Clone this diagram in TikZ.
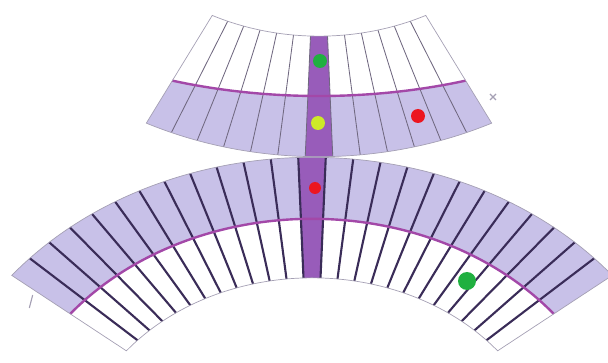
\documentclass[tikz,border=0pt]{standalone}
\definecolor{ringlav}{RGB}{200,193,232}
\definecolor{ringcol}{RGB}{152,92,186}
\definecolor{ringline}{RGB}{163,72,168}
\definecolor{spokedk}{RGB}{58,44,88}
\definecolor{spokelt}{RGB}{112,104,128}
\definecolor{rimgray}{RGB}{165,160,180}
\definecolor{dotred}{RGB}{236,22,32}
\definecolor{dotgreen}{RGB}{32,176,64}
\definecolor{dotlime}{RGB}{205,232,40}

\begin{document}
\begin{tikzpicture}[x=0.025cm, y=0.025cm,
    rim/.style={draw=rimgray, line width=0.5pt},
    spoke/.style={line width=1.5pt, spokedk},
    thinspoke/.style={line width=0.6pt, spokelt},
    midline/.style={line width=1.7pt, ringline}]
  \useasboundingbox (0,0) rectangle (608,363);

  % upper ring (centre above), 13 cells
  \begin{scope}[shift={(319,522)}]
  \begin{scope}[yscale=0.82]
    \fill[ringlav] plot[domain=-116.65:-63.35, samples=40]
        ({(311+16*((\x+90)/26.65)*((\x+90)/26.65))*cos(\x)},
         {(311+16*((\x+90)/26.65)*((\x+90)/26.65))*sin(\x)})
      -- (-63.35:385) arc[start angle=-63.35, end angle=-116.65, radius=385] -- cycle;
    \fill[ringcol] (-92.05:238) -- (-92.05:385)
      arc[start angle=-92.05, end angle=-87.95, radius=385]
      -- (-87.95:238) arc[start angle=-87.95, end angle=-92.05, radius=238] -- cycle;
    \foreach \i in {1,...,12}{
      \pgfmathsetmacro{\a}{-116.65+4.1*\i}
      \draw[thinspoke] (\a:238) -- (\a:385);
    }
    \draw[midline] plot[domain=-116.65:-63.35, samples=40]
        ({(311+16*((\x+90)/26.65)*((\x+90)/26.65))*cos(\x)},
         {(311+16*((\x+90)/26.65)*((\x+90)/26.65))*sin(\x)});
    \draw[rim] (-116.65:238) -- (-116.65:385)
      arc[start angle=-116.65, end angle=-63.35, radius=385]
      -- (-63.35:238) arc[start angle=-63.35, end angle=-116.65, radius=238] -- cycle;
  \end{scope}
  \end{scope}

  % lower ring (centre below), 25 cells
  \begin{scope}[shift={(312,-110)}]
  \begin{scope}[yscale=0.82]
    \fill[ringlav] (141.25:310) arc[start angle=141.25, end angle=38.75, radius=310]
      -- (38.75:385) arc[start angle=38.75, end angle=141.25, radius=385] -- cycle;
    \fill[ringcol] (92.05:238) -- (92.05:385)
      arc[start angle=92.05, end angle=87.95, radius=385]
      -- (87.95:238) arc[start angle=87.95, end angle=92.05, radius=238] -- cycle;
    \foreach \i in {1,...,24}{
      \pgfmathsetmacro{\a}{141.25-4.1*\i}
      \draw[spoke] (\a:238) -- (\a:385);
    }
    \draw[midline] (141.25:310) arc[start angle=141.25, end angle=38.75, radius=310];
    \draw[rim] (141.25:238) -- (141.25:385)
      arc[start angle=141.25, end angle=38.75, radius=385]
      -- (38.75:238) arc[start angle=38.75, end angle=141.25, radius=238] -- cycle;
  \end{scope}
  \end{scope}

  % markers
  \fill[dotgreen] (320,302) circle[radius=7];
  \fill[dotlime]  (318,240) circle[radius=7];
  \fill[dotred]   (418,247) circle[radius=7];
  \fill[dotred]   (315,175) circle[radius=6];
  \fill[dotgreen] (467,82)  circle[radius=9];

  % stray marks
  \draw[rimgray, line width=0.8pt] (490,263) -- (496,269) (490,269) -- (496,263);
  \draw[rimgray, line width=0.8pt] (32.7,68) -- (29.3,55);
\end{tikzpicture}
\end{document}
